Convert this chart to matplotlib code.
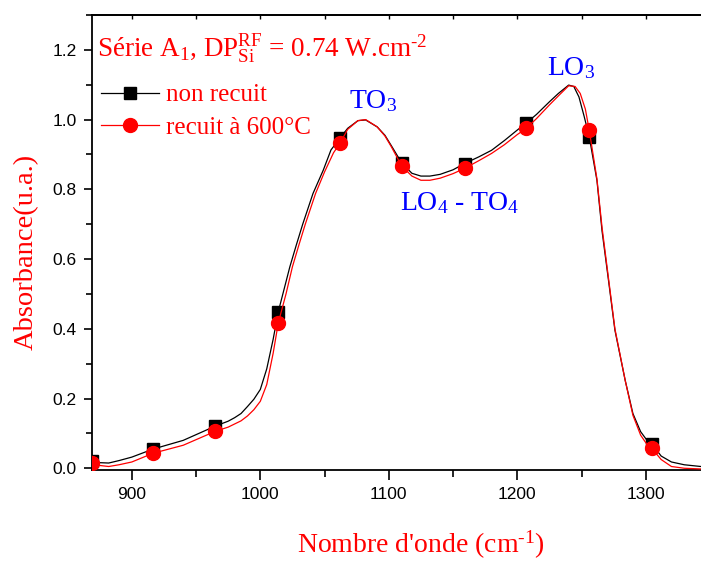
import numpy as np
import matplotlib
matplotlib.use("Agg")
import matplotlib.pyplot as plt
from matplotlib.ticker import MultipleLocator

plt.rcParams['mathtext.fontset'] = 'custom'
plt.rcParams['mathtext.rm'] = 'Liberation Serif'
plt.rcParams['mathtext.it'] = 'Liberation Serif:italic'
plt.rcParams['mathtext.bf'] = 'Liberation Serif:bold'

# ---- data ----
wn_black = [869, 875, 882, 890, 900, 916.5, 940, 965, 975, 980, 985, 990, 995, 1000,
            1005, 1010, 1014, 1020, 1023, 1028, 1033, 1041, 1049, 1055, 1062, 1068,
            1076, 1082, 1091, 1097, 1102, 1110, 1118, 1125, 1132, 1140, 1150, 1159,
            1170, 1180, 1190, 1200, 1207, 1215, 1225, 1232, 1240, 1244, 1248, 1252,
            1256, 1262, 1266, 1271, 1276, 1284, 1290, 1296, 1301, 1304.5, 1312, 1320,
            1330, 1343]
abs_black = [0.022, 0.016, 0.015, 0.022, 0.032, 0.055, 0.080, 0.121, 0.135, 0.145, 0.157,
             0.177, 0.198, 0.226, 0.285, 0.370, 0.449, 0.535, 0.578, 0.640, 0.700, 0.788,
             0.855, 0.913, 0.947, 0.975, 0.997, 0.999, 0.979, 0.955, 0.925, 0.876, 0.846,
             0.838, 0.838, 0.843, 0.856, 0.874, 0.893, 0.912, 0.940, 0.970, 0.990, 1.015,
             1.051, 1.075, 1.099, 1.095, 1.065, 1.010, 0.951, 0.826, 0.680, 0.539, 0.396,
             0.252, 0.157, 0.105, 0.080, 0.071, 0.035, 0.018, 0.010, 0.005]

wn_red = [869, 875, 882, 890, 900, 916.5, 940, 965, 975, 980, 985, 990, 995, 1000,
          1005, 1010, 1014, 1020, 1025, 1030, 1035, 1043, 1050, 1057, 1062, 1068,
          1076, 1082, 1091, 1097, 1102, 1110, 1118, 1125, 1132, 1140, 1150, 1159,
          1170, 1180, 1190, 1200, 1207, 1215, 1225, 1232, 1240, 1245, 1249, 1253,
          1256, 1262, 1266, 1271, 1276, 1284, 1290, 1296, 1301, 1304.5, 1312, 1320,
          1330, 1343]
abs_red = [0.015, 0.008, 0.005, 0.010, 0.018, 0.043, 0.066, 0.106, 0.118, 0.127, 0.136,
           0.150, 0.168, 0.192, 0.240, 0.330, 0.417, 0.500, 0.578, 0.640, 0.700, 0.788,
           0.850, 0.905, 0.932, 0.972, 0.997, 1.000, 0.979, 0.953, 0.922, 0.867, 0.838,
           0.826, 0.826, 0.832, 0.845, 0.860, 0.882, 0.903, 0.928, 0.957, 0.975, 1.003,
           1.042, 1.068, 1.097, 1.095, 1.075, 1.030, 0.970, 0.830, 0.690, 0.545, 0.400,
           0.252, 0.152, 0.095, 0.068, 0.058, 0.025, 0.005, 0.000, -0.002]

marker_wn = [869, 916.5, 965, 1014, 1062, 1110, 1159, 1207, 1256, 1304.5]

labels = ["non recuit", "recuit à 600°C"]
x_ticks = [900, 1000, 1100, 1200, 1300]
y_ticks = [0.0, 0.2, 0.4, 0.6, 0.8, 1.0, 1.2]

W, H = 701, 561
fig = plt.figure(figsize=(W / 100, H / 100), dpi=100)

def fx(px):
    return px / W

def fy(py):
    return 1 - py / H

ax = fig.add_axes([fx(92), fy(470), fx(701) - fx(92), fy(15) - fy(470)])

mk_b = [wn_black.index(v) for v in marker_wn]
mk_r = [wn_red.index(v) for v in marker_wn]

ax.plot(wn_black, abs_black, color='black', lw=0.9, marker='s', ms=8,
        markevery=mk_b, label=labels[0], zorder=3, clip_on=True)
ax.plot(wn_red, abs_red, color='red', lw=0.9, marker='o', ms=10,
        markevery=mk_r, label=labels[1], zorder=4, clip_on=True)

ax.set_xlim(869, 1343)
ax.set_ylim(-0.005, 1.30)
ax.set_xticks(x_ticks)
ax.set_yticks(y_ticks)
ax.set_yticklabels([f"{v:.1f}" for v in y_ticks])
ax.xaxis.set_minor_locator(MultipleLocator(50))
ax.yaxis.set_minor_locator(MultipleLocator(0.1))

for side in ['left', 'bottom', 'top']:
    ax.spines[side].set_linewidth(1.3)
ax.spines['right'].set_visible(False)

ax.tick_params(axis='both', which='major', direction='out', width=1.2,
               labelsize=12.5, pad=5)
ax.tick_params(axis='y', which='major', length=6)
ax.tick_params(axis='y', which='minor', direction='out', length=4, width=1.2)
ax.tick_params(axis='x', which='major', length=7)
ax.tick_params(axis='x', which='minor', direction='out', length=5, width=1.2)
for lab in ax.get_xticklabels() + ax.get_yticklabels():
    lab.set_fontfamily('Liberation Sans')

sec = ax.secondary_xaxis('top')
sec.set_xticks(np.arange(900, 1350, 50))
sec.tick_params(direction='in', length=3, width=1.0, labeltop=False)
sec.spines['top'].set_linewidth(1.3)

serif = 'Liberation Serif'

leg = ax.legend(loc='upper left', bbox_to_anchor=(fx(101), fy(84)),
                bbox_transform=fig.transFigure, frameon=False,
                prop={'family': serif, 'size': 18}, numpoints=1,
                handlelength=2.3, handletextpad=0.3, labelspacing=0.39,
                borderpad=0, borderaxespad=0)
for t in leg.get_texts():
    t.set_color('red')

fig.text(fx(97), fy(57), "Série A$_1$, DP$^{\\mathrm{RF}}_{\\mathrm{Si}}$ = 0.74 W.cm$^{\u20102}$",
         color='red', fontsize=19.5, family=serif, ha='left', va='baseline')

fig.text(fx(349), fy(108), r"TO$_3$", color='blue', fontsize=20, family=serif,
         ha='left', va='baseline')
fig.text(fx(400), fy(210), r"LO$_4$ - TO$_4$", color='blue', fontsize=20, family=serif,
         ha='left', va='baseline')
fig.text(fx(547), fy(75), r"LO$_3$", color='blue', fontsize=20, family=serif,
         ha='left', va='baseline')

fig.text(fx(26), fy(252), "Absorbance(u.a.)", color='red', fontsize=20.5, family=serif,
         rotation=90, ha='center', va='center')
fig.text(fx(420.5), fy(553), "Nombre d'onde (cm$^{\u20101}$)", color='red',
         fontsize=20, family=serif, ha='center', va='baseline')

fig.savefig("out.png", dpi=100)
